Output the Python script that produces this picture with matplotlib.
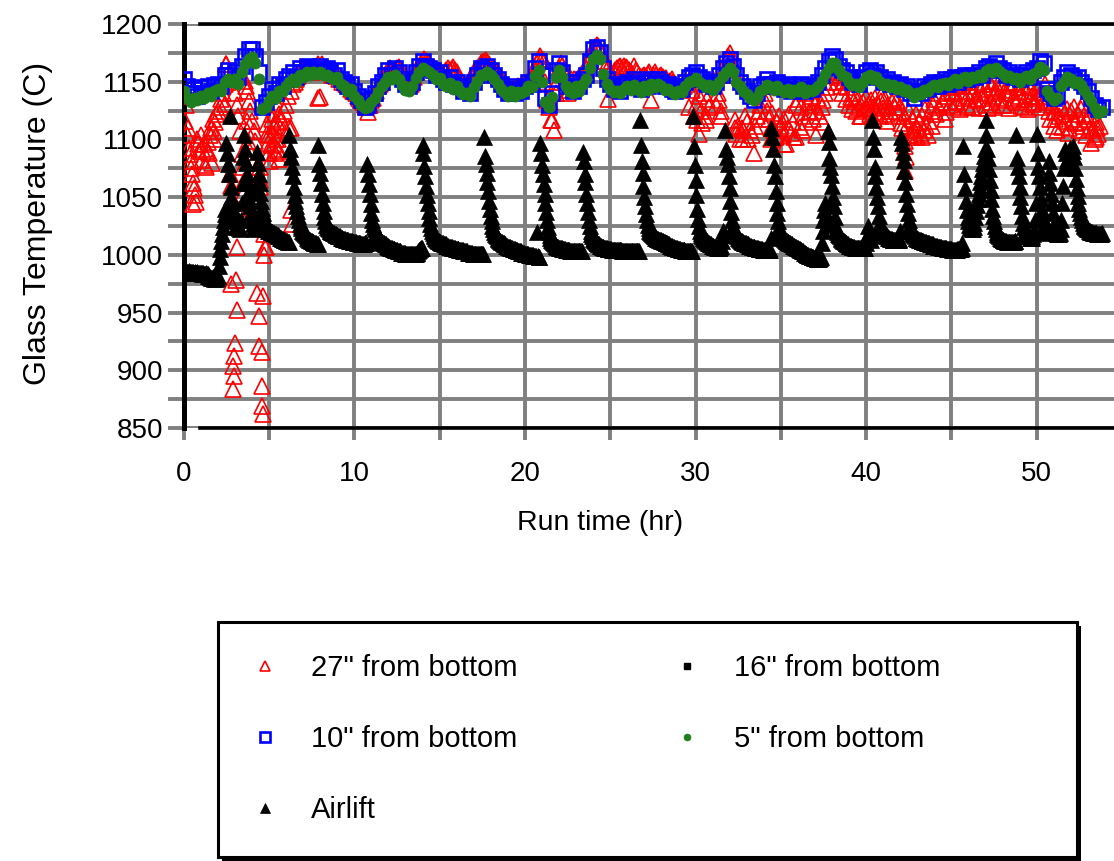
import numpy as np
import matplotlib
matplotlib.use("Agg")
import matplotlib.pyplot as plt
from matplotlib.patches import Rectangle
from matplotlib.ticker import MultipleLocator

plt.rcParams['font.family'] = ['Liberation Sans', 'DejaVu Sans']

# Logger sampling intervals (hours) for each record
AIRLIFT_STEP = 0.05
RED_STEP = 0.1
BAND_STEP = 0.2

# Airlift thermocouple, one row per hour of run time (deg C)
airlift_temps = [
    986, 986, 985, 986, 985, 985, 986, 985, 985, 984, 985, 985, 984, 985, 984, 984, 985, 984, 984, 984,
    984, 984, 983, 984, 983, 983, 984, 983, 983, 982, 982, 981, 980, 980, 981, 980, 979, 980, 979, 980,
    982, 990, 998, 1005, 1012, 1018, 1024, 1030, 1035, 1040, 1097, 1088, 1079, 1070, 1120, 1059, 1050, 1045, 1040, 1036,
    1032, 1029, 1027, 1025, 1024, 1023, 1022, 1030, 1045, 1062, 1085, 1104, 1092, 1080, 1070, 1062, 1055, 1048, 1042, 1036,
    1031, 1027, 1024, 1022, 1030, 1060, 1089, 1080, 1070, 1062, 1054, 1047, 1041, 1036, 1032, 1028, 1025, 1023, 1022, 1021,
    1021, 1021, 1020, 1020, 1020, 1019, 1019, 1018, 1018, 1017, 1017, 1016, 1016, 1015, 1015, 1014, 1014, 1013, 1013, 1013,
    1012, 1012, 1011, 1011, 1104, 1092, 1085, 1076, 1068, 1059, 1052, 1047, 1042, 1038, 1034, 1030, 1027, 1025, 1023, 1021,
    1020, 1019, 1018, 1017, 1016, 1015, 1014, 1013, 1013, 1012, 1012, 1011, 1011, 1010, 1010, 1010, 1009, 1009, 1095, 1079,
    1071, 1062, 1053, 1045, 1038, 1033, 1029, 1026, 1024, 1023, 1022, 1021, 1021, 1020, 1020, 1019, 1019, 1018, 1018, 1017,
    1017, 1016, 1016, 1016, 1015, 1015, 1015, 1014, 1014, 1014, 1013, 1013, 1013, 1013, 1012, 1012, 1012, 1012, 1011, 1011,
    1011, 1011, 1011, 1010, 1010, 1010, 1010, 1010, 1009, 1009, 1009, 1009, 1010, 1010, 1010, 1079, 1070, 1061, 1053, 1044,
    1036, 1030, 1027, 1024, 1022, 1020, 1018, 1016, 1015, 1014, 1013, 1012, 1011, 1011, 1010, 1010, 1009, 1009, 1008, 1008,
    1007, 1007, 1006, 1006, 1006, 1005, 1005, 1005, 1004, 1004, 1004, 1003, 1003, 1003, 1003, 1002, 1002, 1002, 1002, 1002,
    1001, 1001, 1001, 1001, 1001, 1001, 1001, 1001, 1001, 1001, 1001, 1001, 1001, 1002, 1002, 1003, 1004, 1005, 1006, 1006,
    1095, 1088, 1077, 1068, 1060, 1052, 1045, 1038, 1032, 1027, 1023, 1021, 1019, 1017, 1016, 1015, 1014, 1013, 1012, 1012,
    1011, 1011, 1010, 1010, 1010, 1009, 1009, 1009, 1008, 1008, 1008, 1007, 1007, 1007, 1007, 1006, 1006, 1006, 1006, 1005,
    1005, 1005, 1005, 1004, 1004, 1004, 1004, 1004, 1003, 1003, 1003, 1003, 1003, 1002, 1002, 1002, 1002, 1002, 1002, 1001,
    1001, 1001, 1001, 1001, 1001, 1001, 1001, 1001, 1001, 1001, 1001, 1001, 1102, 1086, 1079, 1071, 1063, 1055, 1047, 1040,
    1034, 1029, 1025, 1022, 1020, 1018, 1017, 1016, 1015, 1014, 1013, 1012, 1011, 1011, 1010, 1010, 1009, 1009, 1008, 1008,
    1007, 1007, 1007, 1006, 1006, 1006, 1005, 1005, 1005, 1004, 1004, 1004, 1003, 1003, 1003, 1003, 1002, 1002, 1002, 1002,
    1001, 1001, 1001, 1001, 1001, 1000, 1000, 1000, 1000, 1000, 999, 999, 999, 999, 1020, 999, 998, 998, 1097, 1088,
    1078, 1070, 1061, 1053, 1045, 1037, 1030, 1024, 1020, 1017, 1015, 1013, 1012, 1011, 1010, 1009, 1008, 1008, 1007, 1007,
    1006, 1006, 1006, 1006, 1005, 1005, 1005, 1005, 1004, 1004, 1004, 1004, 1004, 1003, 1003, 1003, 1003, 1003, 1003, 1003,
    1003, 1003, 1003, 1003, 1003, 1003, 1003, 1003, 1089, 1081, 1070, 1063, 1053, 1045, 1037, 1030, 1025, 1021, 1018, 1016,
    1014, 1013, 1012, 1011, 1010, 1010, 1009, 1009, 1008, 1008, 1007, 1007, 1007, 1006, 1006, 1006, 1006, 1005, 1005, 1005,
    1005, 1005, 1004, 1004, 1004, 1004, 1004, 1004, 1004, 1004, 1004, 1004, 1004, 1004, 1003, 1003, 1003, 1003, 1003, 1003,
    1003, 1003, 1003, 1003, 1003, 1003, 1003, 1003, 1003, 1003, 1003, 1003, 1003, 1003, 1003, 1117, 1095, 1081, 1071, 1060,
    1050, 1042, 1035, 1030, 1026, 1023, 1021, 1020, 1019, 1018, 1017, 1016, 1016, 1015, 1015, 1014, 1014, 1013, 1013, 1013,
    1012, 1012, 1012, 1011, 1011, 1010, 1010, 1010, 1009, 1009, 1008, 1008, 1008, 1007, 1007, 1007, 1006, 1006, 1006, 1005,
    1005, 1005, 1005, 1004, 1004, 1004, 1004, 1004, 1003, 1003, 1003, 1003, 1003, 1003, 1003, 1003, 1003, 1120, 1094, 1078,
    1065, 1052, 1040, 1031, 1025, 1021, 1019, 1017, 1016, 1015, 1014, 1013, 1012, 1012, 1011, 1010, 1010, 1009, 1009, 1008,
    1008, 1008, 1007, 1007, 1007, 1006, 1006, 1006, 1006, 1007, 1008, 1012, 1021, 1018, 1017, 1108, 1092, 1085, 1079, 1068,
    1058, 1047, 1037, 1030, 1025, 1022, 1020, 1018, 1017, 1016, 1015, 1014, 1013, 1012, 1012, 1011, 1011, 1010, 1010, 1010,
    1009, 1009, 1009, 1008, 1008, 1008, 1007, 1007, 1007, 1007, 1006, 1006, 1006, 1006, 1005, 1005, 1005, 1005, 1005, 1004,
    1004, 1004, 1004, 1004, 1004, 1004, 1004, 1004, 1015, 1110, 1102, 1092, 1078, 1068, 1055, 1045, 1036, 1029, 1024, 1021,
    1019, 1017, 1016, 1015, 1014, 1013, 1012, 1012, 1011, 1011, 1010, 1010, 1009, 1009, 1008, 1008, 1008, 1007, 1007, 1006,
    1006, 1005, 1005, 1004, 1004, 1003, 1003, 1002, 1002, 1001, 1001, 1000, 1000, 999, 999, 999, 998, 998, 998, 997,
    997, 997, 996, 996, 996, 996, 997, 998, 1010, 1021, 1030, 1039, 1045, 1035, 1028, 1107, 1098, 1084, 1076, 1069,
    1060, 1050, 1042, 1033, 1026, 1022, 1020, 1018, 1017, 1016, 1015, 1014, 1013, 1012, 1012, 1011, 1010, 1010, 1009, 1009,
    1008, 1008, 1008, 1007, 1007, 1007, 1007, 1006, 1006, 1006, 1006, 1006, 1006, 1006, 1006, 1006, 1006, 1006, 1006, 1006,
    1010, 1016, 1025, 1020, 1016, 1014, 1013, 1117, 1102, 1092, 1076, 1068, 1059, 1050, 1042, 1034, 1028, 1024, 1022, 1020,
    1019, 1018, 1017, 1017, 1016, 1016, 1015, 1015, 1014, 1014, 1014, 1013, 1013, 1013, 1013, 1013, 1013, 1013, 1013, 1014,
    1021, 1102, 1097, 1089, 1082, 1073, 1063, 1053, 1044, 1036, 1030, 1026, 1023, 1021, 1019, 1018, 1017, 1016, 1015, 1015,
    1014, 1014, 1013, 1013, 1013, 1012, 1012, 1012, 1011, 1011, 1011, 1010, 1010, 1010, 1010, 1009, 1009, 1009, 1009, 1008,
    1008, 1008, 1008, 1008, 1007, 1007, 1007, 1007, 1007, 1006, 1006, 1006, 1006, 1006, 1006, 1005, 1005, 1005, 1005, 1005,
    1005, 1004, 1004, 1004, 1004, 1004, 1004, 1005, 1005, 1005, 1005, 1005, 1006, 1010, 1094, 1070, 1058, 1047, 1039, 1033,
    1029, 1026, 1024, 1023, 1022, 1022, 1024, 1028, 1033, 1038, 1043, 1048, 1053, 1058, 1063, 1068, 1074, 1080, 1086, 1092,
    1104, 1117, 1092, 1084, 1074, 1065, 1056, 1048, 1040, 1034, 1029, 1025, 1022, 1020, 1018, 1017, 1016, 1015, 1014, 1014,
    1013, 1013, 1012, 1012, 1012, 1011, 1011, 1011, 1011, 1011, 1011, 1011, 1011, 1011, 1012, 1012, 1104, 1084, 1076, 1068,
    1059, 1050, 1042, 1034, 1028, 1024, 1021, 1019, 1018, 1017, 1016, 1016, 1015, 1015, 1015, 1016, 1018, 1021, 1030, 1045,
    1105, 1088, 1076, 1068, 1059, 1048, 1039, 1032, 1026, 1022, 1020, 1019, 1020, 1022, 1081, 1071, 1062, 1053, 1045, 1036,
    1027, 1022, 1020, 1019, 1018, 1018, 1018, 1019, 1022, 1030, 1045, 1060, 1075, 1092, 1088, 1082, 1076, 1084, 1090, 1093,
    1088, 1086, 1090, 1094, 1085, 1075, 1066, 1058, 1051, 1045, 1040, 1036, 1033, 1030, 1028, 1026, 1025, 1024, 1023, 1022,
    1022, 1021, 1021, 1020, 1020, 1020, 1019, 1019, 1019, 1019, 1019, 1018, 1018, 1018, 1018, 1018, 1019,
]

# 27" thermocouple, one row per hour
red_27in_temps = [
    1138, 1116, 1104, 1093, 1081, 1070, 1058, 1046, 1100, 1090,
    1104, 1082, 1096, 1076, 1098, 1088, 1110, 1118, 1107, 1122,
    1125, 1128, 1135, 1140, 1148, 1165, 1150, 1070, 1060, 1047,
    1140, 1130, 1120, 1107, 1087, 1076, 1151, 1142, 1133, 1125,
    1116, 1107, 1099, 1076, 1068, 1059, 1030, 1018, 1007, 1113,
    1104, 1095, 1122, 1112, 1100, 1090, 1083, 1116, 1108, 1125,
    1130, 1138, 1110, 1142, 1148, 1150, 1152, 1155, 1158, 1160,
    1163, 1160, 1158, 1162, 1160, 1158, 1163, 1160, 1162, 1165,
    1137, 1165, 1163, 1160, 1162, 1158, 1160, 1156, 1158, 1155,
    1156, 1152, 1154, 1150, 1152, 1148, 1148, 1146, 1144, 1142,
    1142, 1140, 1138, 1136, 1134, 1132, 1130, 1128, 1124, 1130,
    1134, 1136, 1140, 1142, 1146, 1148, 1150, 1154, 1156, 1158,
    1160, 1162, 1160, 1158, 1160, 1162, 1163, 1160, 1158, 1156,
    1154, 1152, 1150, 1148, 1150, 1154, 1158, 1162, 1164, 1166,
    1168, 1170, 1168, 1166, 1166, 1164, 1163, 1162, 1160, 1160,
    1158, 1157, 1156, 1158, 1160, 1162, 1160, 1161, 1163, 1160,
    1158, 1155, 1152, 1150, 1148, 1146, 1147, 1148, 1152, 1156,
    1158, 1160, 1162, 1164, 1166, 1167, 1168, 1169, 1167, 1165,
    1163, 1162, 1160, 1158, 1156, 1154, 1152, 1150, 1148, 1146,
    1145, 1144, 1142, 1144, 1143, 1145, 1146, 1144, 1146, 1148,
    1148, 1150, 1148, 1150, 1152, 1155, 1160, 1166, 1170, 1172,
    1170, 1168, 1150, 1134, 1128, 1132, 1117, 1108, 1140, 1150,
    1162, 1166, 1164, 1160, 1155, 1143, 1150, 1152, 1150, 1152,
    1150, 1152, 1154, 1156, 1158, 1160, 1162, 1166, 1170, 1174,
    1178, 1180, 1182, 1181, 1178, 1174, 1168, 1162, 1160, 1135,
    1158, 1156, 1158, 1160, 1162, 1163, 1164, 1162, 1164, 1163,
    1162, 1160, 1158, 1157, 1164, 1160, 1158, 1156, 1154, 1155,
    1156, 1155, 1157, 1158, 1134, 1156, 1158, 1156, 1154, 1155,
    1156, 1154, 1152, 1153, 1150, 1151, 1152, 1150, 1148, 1146,
    1146, 1145, 1144, 1146, 1150, 1148, 1128, 1152, 1143, 1120,
    1130, 1117, 1138, 1125, 1114, 1140, 1117, 1135, 1128, 1150,
    1152, 1148, 1130, 1140, 1134, 1125, 1156, 1162, 1168, 1172,
    1175, 1170, 1160, 1117, 1105, 1112, 1100, 1110, 1108, 1120,
    1115, 1100, 1108, 1104, 1088, 1112, 1120, 1125, 1130, 1118,
    1135, 1140, 1125, 1118, 1110, 1123, 1108, 1102, 1115, 1120,
    1112, 1104, 1118, 1096, 1110, 1122, 1106, 1115, 1102, 1130,
    1135, 1111, 1128, 1120, 1140, 1115, 1132, 1125, 1138, 1118,
    1130, 1125, 1136, 1120, 1128, 1134, 1140, 1145, 1150, 1156,
    1160, 1158, 1156, 1150, 1154, 1146, 1140, 1151, 1135, 1145,
    1130, 1137, 1126, 1133, 1125, 1135, 1128, 1120, 1132, 1126,
    1137, 1130, 1122, 1134, 1128, 1136, 1124, 1130, 1120, 1133,
    1127, 1135, 1122, 1130, 1125, 1132, 1120, 1128, 1134, 1124,
    1128, 1110, 1120, 1094, 1112, 1125, 1104, 1118, 1108, 1122,
    1102, 1115, 1106, 1120, 1108, 1112, 1104, 1116, 1125, 1130,
    1135, 1122, 1140, 1128, 1146, 1132, 1138, 1124, 1142, 1130,
    1145, 1128, 1140, 1133, 1148, 1126, 1142, 1136, 1150, 1130,
    1138, 1146, 1128, 1142, 1134, 1150, 1127, 1144, 1136, 1148,
    1130, 1140, 1151, 1132, 1145, 1128, 1142, 1136, 1150, 1134,
    1146, 1130, 1140, 1148, 1127, 1143, 1136, 1150, 1132, 1145,
    1138, 1129, 1148, 1135, 1142, 1126, 1146, 1138, 1131, 1150,
    1136, 1144, 1128, 1140, 1134, 1148, 1132, 1125, 1118, 1130,
    1112, 1124, 1108, 1120, 1128, 1111, 1122, 1116, 1126, 1110,
    1125, 1118, 1128, 1115, 1122, 1108, 1126, 1112, 1120, 1104,
    1118, 1110, 1097, 1108, 1100, 1115, 1105, 1112,
]

# Additional 27" readings logged between the regular samples (hour, deg C)
red_27in_extra = [
    (0.15, 1130), (0.25, 1110), (0.35, 1087), (0.45, 1075), (0.55, 1062), (0.65, 1052),
    (0.55, 1044), (0.85, 1096), (1.05, 1092), (1.25, 1078), (1.35, 1090), (1.55, 1104),
    (1.65, 1080), (1.85, 1115), (1.75, 1100),
    (2.80, 975), (3.05, 978), (3.10, 952), (3.00, 924), (2.95, 912), (2.90, 904),
    (2.95, 895), (2.88, 884), (3.10, 1007), (3.45, 1053), (3.50, 1041), (3.50, 1030),
    (3.55, 1064), (3.65, 1146), (3.70, 1116), (3.72, 1107), (3.75, 1099), (3.75, 1093),
    (4.30, 967), (4.65, 964), (4.40, 947), (4.40, 921), (4.60, 916), (4.60, 886),
    (4.60, 869), (4.62, 862), (4.70, 1000), (4.75, 1007), (4.45, 1076), (4.50, 1065),
    (4.90, 1105), (4.95, 1097), (5.00, 1088), (5.05, 1081), (5.20, 1118), (5.25, 1105),
    (5.30, 1096), (5.35, 1088), (5.45, 1115), (5.50, 1100), (5.55, 1092), (5.60, 1122),
    (6.30, 1110), (6.30, 1039), (6.35, 1027), (7.90, 1136), (2.45, 1131), (2.50, 1165),
    (21.55, 1117), (22.50, 1140), (30.20, 1105), (30.60, 1120), (31.50, 1120),
    (32.30, 1110), (32.80, 1100), (34.40, 1100), (35.20, 1096), (35.90, 1102),
    (36.25, 1108), (36.65, 1124), (37.05, 1104), (37.45, 1115), (39.25, 1140),
    (39.65, 1120), (40.05, 1127), (40.45, 1118), (40.85, 1138), (41.25, 1116),
    (41.65, 1136), (42.05, 1114), (42.30, 1099), (42.35, 1085), (42.30, 1073),
    (42.80, 1104), (43.00, 1110), (43.30, 1102), (43.45, 1126), (43.85, 1112),
    (44.25, 1146), (44.65, 1118), (45.05, 1140), (45.35, 1132), (45.65, 1146),
    (45.95, 1128), (46.25, 1140), (46.55, 1135), (46.85, 1148), (47.15, 1127),
    (47.45, 1138), (47.75, 1144), (48.05, 1130), (48.35, 1150), (48.65, 1134),
    (48.95, 1141), (49.25, 1128), (49.55, 1145), (49.85, 1132), (50.15, 1138),
    (51.05, 1118), (51.45, 1130), (51.85, 1106), (52.25, 1114), (52.65, 1130),
    (53.05, 1122), (53.45, 1102), (53.55, 1110),
]

# 16" thermocouple: no readings in this run
black_16in_hours = []
black_16in_temps = []

# 10" thermocouple, one row per two hours
blue_10in_temps = [
    1152, 1146, 1140, 1144, 1138, 1145, 1140, 1146, 1142, 1147,
    1148, 1146, 1156, 1160, 1156, 1158, 1154, 1164, 1172, 1178,
    1178, 1172, 1158, 1128, 1132, 1138, 1144, 1140, 1148, 1146,
    1152, 1155, 1158, 1154, 1162, 1158, 1164, 1160, 1163, 1161,
    1164, 1160, 1162, 1158, 1156, 1160, 1152, 1150, 1146, 1148,
    1142, 1138, 1134, 1128, 1130, 1136, 1140, 1146, 1150, 1156,
    1160, 1156, 1162, 1158, 1152, 1148, 1146, 1150, 1158, 1164,
    1168, 1164, 1162, 1160, 1156, 1158, 1152, 1150, 1154, 1148,
    1150, 1146, 1142, 1144, 1140, 1150, 1156, 1162, 1160, 1164,
    1160, 1156, 1152, 1148, 1144, 1140, 1146, 1140, 1144, 1142,
    1146, 1150, 1148, 1162, 1168, 1156, 1136, 1130, 1140, 1160,
    1166, 1158, 1150, 1146, 1142, 1150, 1146, 1152, 1156, 1168,
    1178, 1180, 1176, 1162, 1152, 1148, 1144, 1146, 1142, 1148,
    1150, 1146, 1152, 1148, 1144, 1150, 1146, 1152, 1148, 1152,
    1150, 1146, 1148, 1144, 1142, 1146, 1144, 1150, 1154, 1156,
    1158, 1154, 1152, 1148, 1150, 1146, 1150, 1156, 1162, 1166,
    1170, 1164, 1156, 1150, 1146, 1142, 1138, 1134, 1140, 1146,
    1148, 1152, 1148, 1146, 1150, 1146, 1144, 1148, 1142, 1146,
    1144, 1148, 1142, 1146, 1144, 1147, 1150, 1156, 1162, 1168,
    1172, 1170, 1164, 1160, 1158, 1154, 1150, 1152, 1148, 1154,
    1158, 1160, 1156, 1158, 1154, 1150, 1152, 1148, 1150, 1146,
    1148, 1144, 1146, 1140, 1136, 1142, 1140, 1146, 1144, 1148,
    1150, 1146, 1150, 1152, 1148, 1152, 1154, 1150, 1154, 1156,
    1152, 1156, 1154, 1158, 1156, 1162, 1164, 1160, 1166, 1162,
    1160, 1156, 1158, 1154, 1156, 1152, 1156, 1158, 1154, 1160,
    1162, 1168, 1166, 1144, 1140, 1136, 1138, 1150, 1154, 1158,
    1156, 1152, 1154, 1150, 1146, 1142, 1136, 1130, 1126, 1128,
]

# 5" thermocouple, one row per two hours
green_5in_temps = [
    1142, 1136, 1132, 1136, 1134, 1138, 1136, 1140, 1138, 1142,
    1144, 1142, 1150, 1152, 1150, 1152, 1148, 1158, 1165, 1170,
    1171, 1166, 1152, 1126, 1128, 1133, 1138, 1136, 1142, 1142,
    1146, 1150, 1152, 1150, 1156, 1154, 1158, 1156, 1158, 1157,
    1158, 1156, 1156, 1154, 1152, 1154, 1148, 1146, 1142, 1144,
    1138, 1134, 1130, 1127, 1128, 1132, 1136, 1141, 1146, 1150,
    1154, 1152, 1156, 1152, 1147, 1143, 1142, 1146, 1153, 1158,
    1162, 1160, 1158, 1156, 1152, 1153, 1148, 1146, 1149, 1144,
    1146, 1142, 1139, 1140, 1138, 1145, 1151, 1156, 1156, 1158,
    1156, 1152, 1148, 1144, 1141, 1138, 1142, 1138, 1141, 1140,
    1142, 1146, 1145, 1155, 1160, 1150, 1132, 1128, 1137, 1154,
    1160, 1154, 1146, 1142, 1140, 1146, 1142, 1148, 1152, 1162,
    1170, 1173, 1170, 1157, 1148, 1144, 1141, 1142, 1140, 1144,
    1146, 1143, 1147, 1144, 1141, 1146, 1143, 1148, 1145, 1148,
    1146, 1143, 1144, 1141, 1139, 1142, 1141, 1146, 1150, 1151,
    1153, 1150, 1148, 1145, 1147, 1143, 1146, 1150, 1155, 1158,
    1162, 1158, 1150, 1146, 1142, 1139, 1136, 1134, 1137, 1142,
    1144, 1147, 1145, 1143, 1146, 1143, 1141, 1144, 1140, 1143,
    1142, 1145, 1140, 1143, 1142, 1144, 1146, 1151, 1157, 1162,
    1166, 1166, 1160, 1156, 1154, 1150, 1147, 1148, 1145, 1150,
    1154, 1156, 1152, 1154, 1150, 1147, 1148, 1145, 1147, 1144,
    1145, 1142, 1143, 1140, 1137, 1140, 1139, 1143, 1142, 1145,
    1147, 1145, 1148, 1149, 1147, 1150, 1152, 1149, 1152, 1154,
    1151, 1154, 1153, 1156, 1154, 1159, 1161, 1158, 1162, 1159,
    1157, 1154, 1155, 1152, 1153, 1150, 1153, 1155, 1152, 1157,
    1158, 1163, 1160, 1142, 1138, 1134, 1136, 1146, 1150, 1154,
    1152, 1149, 1150, 1147, 1143, 1138, 1133, 1127, 1123, 1125,
]

series_labels = ['27" from bottom', '16" from bottom', '10" from bottom',
                 '5" from bottom', 'Airlift']
x_tick_values = [0, 10, 20, 30, 40, 50]
y_tick_values = [850, 900, 950, 1000, 1050, 1100, 1150, 1200]

# ---- sample times -------------------------------------------------------
airlift_hours = np.arange(len(airlift_temps)) * AIRLIFT_STEP
extra = np.array(red_27in_extra, dtype=float)
red_hours = np.concatenate([np.arange(len(red_27in_temps)) * RED_STEP, extra[:, 0]])
red_temps = np.concatenate([np.array(red_27in_temps, dtype=float), extra[:, 1]])
blue_hours = np.arange(len(blue_10in_temps)) * BAND_STEP
green_hours = np.arange(len(green_5in_temps)) * BAND_STEP

# ---- figure ---------------------------------------------------------------
W_PX, H_PX = 1114, 861
fig = plt.figure(figsize=(W_PX / 100, H_PX / 100), dpi=100)
fig.patch.set_facecolor('white')

ax_left, ax_right, ax_top, ax_bottom = 183.7, 1122.0, 24.0, 428.0
ax = fig.add_axes([ax_left / W_PX, 1 - ax_bottom / H_PX,
                   (ax_right - ax_left) / W_PX, (ax_bottom - ax_top) / H_PX])

h_red, = ax.plot(red_hours, red_temps, ls='none', marker='^', ms=11,
                 mfc='none', mec='#ff0000', mew=1.2, label=series_labels[0], zorder=3)
h_16, = ax.plot(black_16in_hours, black_16in_temps, ls='none', marker='s', ms=6.5,
                mfc='black', mec='black', label=series_labels[1], zorder=3.1)
h_blue, = ax.plot(blue_hours, blue_10in_temps, ls='none', marker='s', ms=10.5,
                  mfc='none', mec='#0000ff', mew=1.9, label=series_labels[2], zorder=3.2)
h_green, = ax.plot(green_hours, green_5in_temps, ls='none', marker='o', ms=8,
                   mfc='#1f7f1f', mec='#1f7f1f', mew=0.5, label=series_labels[3], zorder=3.3)
h_air, = ax.plot(airlift_hours, airlift_temps, ls='none', marker='^', ms=11,
                 mfc='black', mec='black', mew=0.5, label=series_labels[4], zorder=3.4)

ax.set_xlim(0, 55)
ax.set_ylim(850, 1200)
ax.set_xticks(x_tick_values)
ax.set_yticks(y_tick_values)
ax.xaxis.set_minor_locator(MultipleLocator(5))
ax.yaxis.set_minor_locator(MultipleLocator(25))

grid_gray = '#808080'
ax.set_axisbelow(True)
ax.grid(True, which='both', color=grid_gray, lw=2.8)
ax.tick_params(axis='x', which='both', direction='out', length=8.6, width=2.8,
               color=grid_gray, pad=15, labelsize=20)
ax.tick_params(axis='y', which='both', direction='out', length=11.5, width=2.8,
               color=grid_gray, pad=3.5, labelsize=20)

ax.spines['right'].set_visible(False)
for side in ('top', 'bottom'):
    ax.spines[side].set_linewidth(2.6)
    ax.spines[side].set_color('black')
    ax.spines[side].set_bounds(0.96, 55)
ax.spines['left'].set_linewidth(3.6)
ax.spines['left'].set_color('black')

ax.set_ylabel('Glass Temperature (C)', fontsize=23)
ax.yaxis.set_label_coords(-0.139, 0.507)
ax.set_xlabel('Run time (hr)', fontsize=20.5)
ax.xaxis.set_label_coords(0.4437, -0.203)

# ---- legend box with drop shadow ------------------------------------------
box_l, box_t, box_r, box_b = 218, 622, 1077, 857
shadow = Rectangle(((box_l + 4) / W_PX, 1 - (box_b + 4) / H_PX),
                   (box_r - box_l) / W_PX, (box_b - box_t) / H_PX,
                   transform=fig.transFigure, facecolor='black', edgecolor='none', zorder=1)
frame = Rectangle((box_l / W_PX, 1 - box_b / H_PX),
                  (box_r - box_l) / W_PX, (box_b - box_t) / H_PX,
                  transform=fig.transFigure, facecolor='white', edgecolor='black',
                  lw=2.2, zorder=1.5)
fig.add_artist(shadow)
fig.add_artist(frame)

order = [h_red, h_blue, h_air, h_16, h_green]
fig.legend(order, [h.get_label() for h in order], loc='upper left',
           bbox_to_anchor=(250 / W_PX, 1 - 654 / H_PX), ncol=2, frameon=False,
           fontsize=21, handlelength=1.0, handletextpad=1.1, columnspacing=5.3,
           labelspacing=1.47, borderpad=0, borderaxespad=0, markerscale=0.62)

fig.savefig('out.png', dpi=100, facecolor='white')
